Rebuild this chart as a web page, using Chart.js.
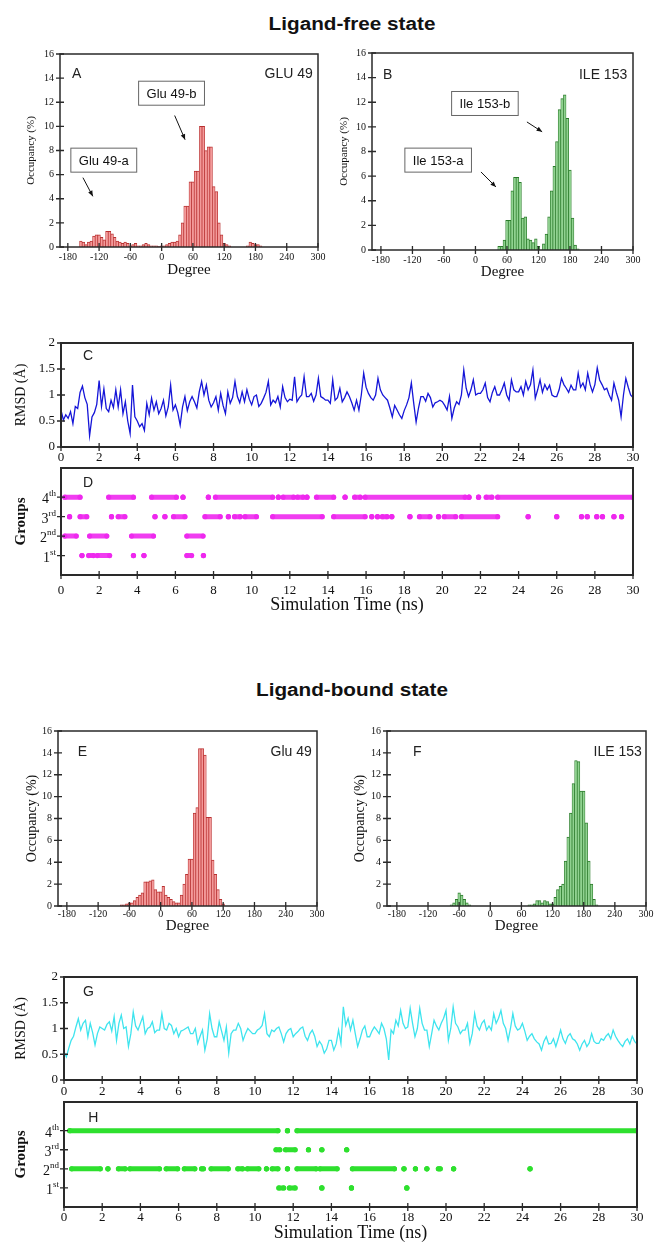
<!DOCTYPE html>
<html>
<head>
<meta charset="utf-8">
<script src="https://cdn.jsdelivr.net/npm/chart.js@4.4.1/dist/chart.umd.min.js"></script>
<style>
  body { margin: 0; width: 655px; height: 1243px; background: #fff; position: relative; overflow: hidden; }
  canvas { position: absolute; }
  .ttl { position: absolute; font: bold 18px "Liberation Sans", Arial, sans-serif; color: #111;
         line-height: 20px; white-space: nowrap; transform: translateX(-50%) scaleX(1.15); }
</style>
</head>
<body>
<div class="ttl" style="left:352px;top:14px">Ligand-free state</div>
<div class="ttl" style="left:352px;top:680px">Ligand-bound state</div>
<script>
// ticks
const degTicks = [-180, -120, -60, 0, 60, 120, 180, 240, 300];
const occTicks = [0, 2, 4, 6, 8, 10, 12, 14, 16];
const timeTicks = [0, 2, 4, 6, 8, 10, 12, 14, 16, 18, 20, 22, 24, 26, 28, 30];
const rmsdTicks = [0, 0.5, 1, 1.5, 2];
const groupTicks = [1, 2, 3, 4];
const groupNames = ['1st', '2nd', '3rd', '4th'];

// histograms (5 degree bins, occupancy %)
const binsA = [-155, -150, -145, -140, -135, -130, -125, -120, -115, -110, -105, -100, -95, -90, -85, -80,
  -75, -70, -65, -60, -55, -50, -45, -40, -35, -30, -25, -20, -15, -10, -5, 0,
  5, 10, 15, 20, 25, 30, 35, 40, 45, 50, 55, 60, 65, 70, 75, 80,
  85, 90, 95, 100, 105, 110, 115, 120, 125, 130, 135, 140, 145, 150, 155, 160,
  165, 170, 175, 180, 185, 190];
const occA = [0.5, 0.4, 0.2, 0.4, 0.5, 0.9, 1.0, 1.0, 0.8, 0.6, 1.3, 1.3, 1.1, 0.8, 0.5, 0.4,
  0.3, 0.4, 0.3, 0.1, 0.2, 0.3, 0.1, 0.1, 0.2, 0.3, 0.2, 0.1, 0.1, 0.1, 0.05, 0.1,
  0.1, 0.2, 0.3, 0.4, 0.4, 0.5, 1.0, 2.0, 3.4, 3.4, 5.4, 5.4, 6.3, 6.3, 10.0, 10.0,
  8.0, 8.3, 8.3, 5.0, 4.6, 2.0, 1.0, 0.3, 0.2, 0.1, 0, 0, 0, 0, 0, 0,
  0.1, 0.4, 0.3, 0.2, 0.2, 0.1];

const binsB = [45, 50, 55, 60, 65, 70, 75, 80, 85, 90, 95, 100, 105, 110, 115, 120,
  125, 130, 135, 140, 145, 150, 155, 160, 165, 170, 175, 180, 185, 190, 195];
const occB = [0.3, 0.3, 0.8, 2.4, 2.4, 4.8, 5.9, 5.9, 5.5, 2.6, 2.7, 0.9, 0.8, 0.6, 0.9, 0.3,
  0, 0.5, 1.3, 2.7, 4.8, 6.8, 8.8, 11.4, 12.3, 12.6, 10.7, 6.5, 2.6, 0.4, 0.1];

const binsE = [-75, -70, -65, -60, -55, -50, -45, -40, -35, -30, -25, -20, -15, -10, -5, 0,
  5, 10, 15, 20, 25, 30, 35, 40, 45, 50, 55, 60, 65, 70, 75, 80,
  85, 90, 95, 100, 105, 110, 115, 120];
const occE = [0.1, 0.1, 0.2, 0.3, 0.3, 0.5, 0.8, 1.0, 1.2, 2.2, 2.2, 2.3, 2.4, 1.5, 1.3, 1.3,
  1.8, 1.0, 0.8, 0.6, 0.4, 0.3, 0.3, 1.0, 2.0, 2.9, 4.3, 4.3, 8.5, 9.0, 14.4, 14.4,
  13.8, 8.1, 8.1, 4.2, 2.9, 1.5, 0.6, 0.2];

const binsF = [-75, -70, -65, -60, -55, -50, -45, -40, 75, 80, 85, 90, 95, 100, 105, 110,
  115, 120, 125, 130, 135, 140, 145, 150, 155, 160, 165, 170, 175, 180, 185, 190,
  195, 200, 205];
const occF = [0.1, 0.3, 0.6, 1.2, 1.0, 0.6, 0.3, 0.1, 0.1, 0.1, 0.2, 0.5, 0.5, 0.3, 0.5, 0.4,
  0.2, 0.2, 0.8, 1.5, 1.8, 2.0, 4.1, 6.3, 8.5, 11.2, 13.3, 13.2, 10.5, 10.5, 7.6, 4.1,
  2.0, 0.6, 0.1];

// RMSD (A), one value every 0.125 ns from 0 to 30 ns
const rmsdStep = 0.125;
const rmsdFree = [
  0.71, 0.52, 0.62, 0.55, 0.68, 0.45, 0.78, 0.74,
  1.05, 1.17, 0.95, 0.82, 0.22, 0.58, 0.66, 0.82,
  1.28, 0.78, 1.12, 0.74, 0.68, 0.90, 0.76, 1.10,
  0.77, 1.10, 0.64, 0.87, 0.50, 0.26, 1.19, 0.58,
  0.50, 0.39, 0.45, 0.32, 0.84, 0.62, 0.94, 0.71,
  0.87, 0.64, 0.74, 0.90, 0.60, 0.77, 1.19, 0.71,
  0.81, 0.66, 0.42, 0.77, 0.97, 0.70, 0.87, 0.97,
  0.87, 0.75, 1.06, 1.26, 1.00, 1.19, 0.90, 0.77,
  0.85, 0.97, 0.71, 1.03, 0.80, 0.64, 1.06, 0.84,
  0.95, 1.26, 0.97, 0.85, 1.06, 0.87, 1.10, 0.92,
  0.81, 0.97, 1.00, 0.78, 0.84, 0.94, 1.05, 1.26,
  0.81, 0.90, 0.85, 0.97, 0.77, 1.16, 0.95, 0.87,
  0.92, 0.90, 1.35, 0.87, 0.95, 1.00, 1.35, 0.97,
  0.97, 1.03, 0.88, 1.00, 1.32, 0.97, 0.94, 0.90,
  0.90, 0.84, 1.29, 0.90, 0.95, 1.13, 0.87, 0.95,
  1.06, 0.97, 0.85, 0.71, 0.90, 0.71, 1.00, 1.42,
  1.15, 1.03, 0.95, 0.90, 1.00, 1.32, 1.10, 1.00,
  0.95, 0.90, 0.75, 0.58, 0.80, 0.71, 0.62, 0.55,
  0.70, 0.81, 0.95, 1.23, 0.84, 0.48, 0.75, 0.97,
  0.97, 0.88, 1.03, 0.95, 0.77, 0.85, 0.87, 0.90,
  0.87, 0.80, 0.71, 0.97, 0.55, 0.75, 0.87, 0.82,
  1.00, 1.48, 1.13, 0.97, 1.10, 1.29, 1.00, 1.03,
  1.03, 1.10, 1.23, 0.95, 0.87, 1.05, 1.16, 1.00,
  1.00, 1.10, 1.23, 1.00, 0.90, 1.29, 1.10, 1.06,
  1.06, 1.16, 1.00, 1.26, 1.10, 1.20, 1.48, 0.94,
  1.10, 1.29, 1.05, 1.20, 1.10, 1.19, 1.00, 0.97,
  0.97, 1.10, 1.32, 1.20, 1.13, 1.05, 1.19, 1.10,
  1.10, 1.42, 1.15, 1.23, 1.10, 1.42, 1.20, 1.06,
  1.20, 1.52, 1.29, 1.20, 1.10, 1.13, 1.00, 0.90,
  1.23, 1.05, 0.90, 0.58, 1.00, 1.32, 1.15, 1.00,
  0.95];
const rmsdBound = [
  0.55, 0.45, 0.62, 0.77, 0.85, 1.03, 1.19, 0.97,
  1.10, 1.16, 0.84, 1.10, 0.92, 0.68, 0.90, 1.03,
  1.00, 0.97, 1.08, 1.13, 0.95, 1.23, 0.77, 1.10,
  1.26, 1.00, 1.03, 0.65, 0.90, 1.32, 1.05, 0.97,
  1.10, 1.23, 0.90, 1.00, 1.03, 1.13, 0.92, 0.97,
  0.97, 1.29, 1.00, 0.97, 1.10, 1.06, 0.90, 1.00,
  0.84, 0.95, 0.97, 1.00, 1.03, 0.90, 0.90, 1.00,
  0.71, 0.85, 0.97, 0.58, 0.80, 1.29, 1.00, 0.84,
  0.84, 1.13, 0.95, 0.77, 1.03, 0.52, 0.90, 0.97,
  0.97, 1.10, 1.00, 0.77, 0.90, 1.00, 0.95, 0.90,
  0.90, 0.97, 1.00, 1.06, 1.29, 0.90, 0.84, 0.97,
  0.94, 1.00, 1.03, 0.90, 0.74, 0.90, 0.97, 1.00,
  0.84, 0.90, 0.94, 1.00, 1.03, 0.85, 0.77, 0.90,
  0.97, 0.85, 0.65, 0.75, 0.68, 0.52, 0.60, 0.77,
  0.77, 0.58, 0.70, 0.97, 0.71, 1.42, 1.06, 1.20,
  0.97, 1.16, 0.90, 0.65, 0.80, 0.97, 1.05, 0.84,
  0.84, 0.95, 1.03, 0.97, 0.90, 1.10, 1.00, 0.80,
  0.39, 0.97, 0.90, 1.16, 1.05, 1.35, 1.10, 1.00,
  1.03, 1.39, 1.10, 0.84, 1.00, 1.39, 1.10, 0.97,
  0.97, 0.65, 0.90, 1.16, 1.05, 0.97, 1.10, 1.20,
  1.35, 0.77, 1.00, 1.42, 1.10, 1.03, 0.90, 0.97,
  0.97, 1.10, 0.71, 0.90, 1.29, 1.05, 0.97, 1.10,
  1.16, 0.97, 1.05, 0.97, 1.29, 1.10, 1.20, 1.35,
  1.10, 1.00, 0.77, 1.00, 1.29, 1.05, 0.97, 1.00,
  1.10, 0.95, 0.77, 0.85, 0.90, 0.80, 0.74, 0.70,
  0.58, 0.75, 0.84, 0.70, 0.71, 0.80, 0.65, 0.80,
  0.97, 0.80, 0.71, 0.85, 0.90, 0.80, 0.77, 0.70,
  0.58, 0.70, 0.77, 0.65, 0.72, 0.90, 0.75, 0.71,
  0.71, 0.80, 0.77, 0.85, 0.90, 0.80, 0.97, 0.85,
  0.77, 0.70, 0.65, 0.75, 0.80, 0.70, 0.85, 0.75,
  0.70];

// group occupancy, [start, end] in ns
const groupsFree4 = [[0.2, 1.0], [2.5, 3.8], [4.75, 6.05], [6.4, 6.4], [7.73, 7.73], [8.1, 11.1], [11.4, 11.4],
  [11.65, 12.2], [12.4, 12.7], [12.9, 12.9], [13.4, 14.3], [14.9, 14.9], [15.4, 15.7], [15.95, 21.2],
  [21.4, 21.4], [21.9, 21.9], [22.3, 22.6], [22.9, 30]];
const groupsFree3 = [[0.45, 0.45], [1.0, 1.35], [2.65, 2.65], [3.0, 3.35], [4.93, 4.93], [5.45, 5.45], [5.9, 6.5],
  [7.55, 8.35], [8.78, 8.78], [9.1, 9.4], [9.65, 10.25], [11.1, 13.7], [14.3, 15.95], [16.3, 16.3], [16.6, 16.6],
  [16.85, 17.1], [17.35, 17.35], [18.3, 18.3], [18.8, 19.35], [19.8, 19.8], [20.1, 20.7], [21.0, 22.9],
  [24.5, 24.5], [26.0, 26.0], [27.3, 27.3], [27.6, 27.6], [28.1, 28.1], [28.4, 28.4], [29.0, 29.0], [29.4, 29.4]];
const groupsFree2 = [[0.2, 0.8], [1.5, 2.4], [3.7, 4.85], [6.6, 7.45]];
const groupsFree1 = [[1.1, 1.1], [1.45, 1.7], [1.9, 2.55], [3.8, 3.8], [4.35, 4.35], [6.6, 6.85], [7.47, 7.47]];

const groupsBound4 = [[0.3, 11.2], [11.7, 11.7], [12.2, 30]];
const groupsBound3 = [[11.1, 11.3], [11.6, 12.1], [12.8, 12.8], [13.5, 13.5], [14.8, 14.8]];
const groupsBound2 = [[0.4, 1.9], [2.3, 2.3], [2.85, 3.2], [3.45, 5.0], [5.35, 5.95], [6.3, 6.85], [7.2, 7.3],
  [7.7, 8.6], [9.1, 9.35], [9.6, 10.2], [10.6, 10.6], [10.9, 11.2], [11.7, 11.7], [12.2, 13.2], [13.4, 14.3],
  [15.1, 17.3], [17.8, 17.8], [18.4, 18.4], [19.0, 19.0], [19.6, 19.7], [20.4, 20.4], [24.4, 24.4]];
const groupsBound1 = [[11.25, 11.5], [11.8, 12.1], [13.5, 13.5], [15.05, 15.05], [17.95, 17.95]];

const SERIF = '"Liberation Serif", "Times New Roman", serif';
const SANS = '"Liberation Sans", Arial, sans-serif';
Chart.defaults.font.family = SERIF;
Chart.defaults.color = '#111';

// frame, crossing ticks, group labels and the small notes inside each panel
const panelPlugin = {
  id: 'panel',
  afterDatasetsDraw(chart, args, o) {
    const { ctx, chartArea: a } = chart;
    const sx = chart.scales.x, sy = chart.scales.y;
    const px = v => sx.getPixelForValue(v), py = v => sy.getPixelForValue(v);
    ctx.save();
    ctx.strokeStyle = '#2a2a2a';
    ctx.lineWidth = o.frame || 1.5;
    ctx.strokeRect(a.left, a.top, a.width, a.height);
    ctx.lineWidth = 1.3;
    ctx.beginPath();
    sx.ticks.forEach(t => { const p = px(t.value); ctx.moveTo(p, a.bottom - 4); ctx.lineTo(p, a.bottom + 4); });
    sy.ticks.forEach(t => { const p = py(t.value); ctx.moveTo(a.left - 4, p); ctx.lineTo(a.left + 4, p); });
    ctx.stroke();

    if (o.groups) {
      ctx.fillStyle = '#111';
      ctx.textAlign = 'right';
      ctx.textBaseline = 'alphabetic';
      sy.ticks.forEach(t => {
        const m = groupNames[t.value - 1].match(/^(\d+)(\D+)$/);
        const p = py(t.value);
        ctx.font = '9px ' + SERIF;
        const sw = ctx.measureText(m[2]).width;
        ctx.fillText(m[2], a.left - 5, p - 1);
        ctx.font = '14px ' + SERIF;
        ctx.fillText(m[1], a.left - 5 - sw, p + 6);
      });
    }

    ctx.strokeStyle = '#111';
    ctx.fillStyle = '#111';
    ctx.lineWidth = 1;
    (o.arrows || []).forEach(r => {
      const x1 = px(r.x1), y1 = py(r.y1), x2 = px(r.x2), y2 = py(r.y2);
      const ang = Math.atan2(y2 - y1, x2 - x1);
      ctx.beginPath(); ctx.moveTo(x1, y1); ctx.lineTo(x2, y2); ctx.stroke();
      ctx.beginPath();
      ctx.moveTo(x2, y2);
      ctx.lineTo(x2 - 6 * Math.cos(ang - 0.4), y2 - 6 * Math.sin(ang - 0.4));
      ctx.lineTo(x2 - 6 * Math.cos(ang + 0.4), y2 - 6 * Math.sin(ang + 0.4));
      ctx.closePath(); ctx.fill();
    });

    (o.boxes || []).forEach(b => {
      ctx.font = '13px ' + SANS;
      const w = ctx.measureText(b.text).width + 16, h = 24;
      const cx = px(b.x), cy = py(b.y);
      ctx.fillStyle = '#fff';
      ctx.fillRect(cx - w / 2, cy - h / 2, w, h);
      ctx.strokeStyle = '#666';
      ctx.strokeRect(cx - w / 2, cy - h / 2, w, h);
      ctx.fillStyle = '#111';
      ctx.textAlign = 'center';
      ctx.textBaseline = 'middle';
      ctx.fillText(b.text, cx, cy + 1);
    });

    (o.texts || []).forEach(t => {
      ctx.font = '14px ' + SANS;
      ctx.fillStyle = '#222';
      ctx.textAlign = t.align || 'left';
      ctx.textBaseline = 'middle';
      ctx.fillText(t.text, px(t.x), py(t.y));
    });
    ctx.restore();
  }
};

// canvas placed so the plot area lands on box g
function makeCanvas(g) {
  const yLH = g.yTitleSize * 1.2;
  const left = Math.round(g.yTitleX - yLH / 2);
  const yW = g.l - left;
  const xH = g.xTitle ? Math.round(g.xTitleY - (g.t + g.h) + g.xTitleSize * 0.6) : 24;
  const padT = 12, padR = 18;
  const cv = document.createElement('canvas');
  cv.width = yW + g.w + padR;
  cv.height = padT + g.h + xH;
  cv.style.left = left + 'px';
  cv.style.top = (g.t - padT) + 'px';
  cv.style.width = cv.width + 'px';
  cv.style.height = cv.height + 'px';
  document.body.appendChild(cv);
  return { cv, yW, xH, padT, padR };
}

function scalesFor(p, g, xs, ys) {
  return {
    x: {
      type: 'linear', min: xs.min, max: xs.max, offset: false,
      grid: { display: false, drawTicks: false }, border: { display: false },
      afterBuildTicks: s => { s.ticks = xs.ticks.map(v => ({ value: v })); },
      afterFit: s => { s.height = p.xH; s.paddingLeft = 0; s.paddingRight = 0; },
      ticks: { autoSkip: false, maxRotation: 0, padding: xs.pad, font: { size: xs.size }, color: '#111',
               callback: v => String(v) },
      title: { display: !!g.xTitle, text: g.xTitle || '', padding: 0, color: '#111',
               font: { size: g.xTitleSize || 12 } }
    },
    y: {
      type: 'linear', min: ys.min, max: ys.max,
      grid: { display: false, drawTicks: false }, border: { display: false },
      afterBuildTicks: s => { s.ticks = ys.ticks.map(v => ({ value: v })); },
      afterFit: s => { s.width = p.yW; s.paddingTop = 0; s.paddingBottom = 0; },
      ticks: { display: !ys.hideLabels, padding: ys.pad, font: { size: ys.size }, color: '#111',
               callback: v => String(v) },
      title: { display: true, text: g.yTitle, padding: 0, color: '#111',
               font: { size: g.yTitleSize, weight: g.yTitleBold ? 'bold' : 'normal' } }
    }
  };
}

function baseOptions(p, g, xs, ys, notes) {
  return {
    responsive: false, animation: false, devicePixelRatio: 1,
    layout: { padding: { left: 0, top: p.padT, right: p.padR, bottom: 0 } },
    plugins: { legend: { display: false }, tooltip: { enabled: false }, panel: notes },
    scales: scalesFor(p, g, xs, ys)
  };
}

function histogram(g, bins, occ, fill, edge, notes) {
  const p = makeCanvas(g);
  new Chart(p.cv, {
    type: 'bar',
    data: {
      datasets: [{
        data: bins.map((b, i) => ({ x: b, y: occ[i] })),
        backgroundColor: fill, borderColor: edge,
        borderWidth: { top: 1, left: 0.7, right: 0.7, bottom: 0 },
        barPercentage: 1, categoryPercentage: 1
      }]
    },
    options: baseOptions(p, g,
      { min: g.xMin, max: 300, ticks: degTicks, pad: g.xPad, size: 10 },
      { min: 0, max: 16, ticks: occTicks, pad: 6, size: 10 }, notes),
    plugins: [panelPlugin]
  });
}

function rmsdPanel(g, values, color, notes) {
  const p = makeCanvas(g);
  new Chart(p.cv, {
    type: 'line',
    data: { datasets: [{ data: values.map((v, i) => ({ x: i * rmsdStep, y: v })),
      borderColor: color, borderWidth: 1.3, pointRadius: 0, tension: 0 }] },
    options: baseOptions(p, g,
      { min: 0, max: 30, ticks: timeTicks, pad: g.xPad, size: 13 },
      { min: 0, max: 2, ticks: rmsdTicks, pad: 6, size: 13 }, Object.assign({ frame: 2 }, notes)),
    plugins: [panelPlugin]
  });
}

function groupPanel(g, rows, color, notes) {
  const p = makeCanvas(g);
  const datasets = rows.map((runs, k) => {
    const pts = [];
    runs.forEach(r => { pts.push({ x: r[0], y: k + 1 }, { x: r[1], y: k + 1 }, { x: r[1], y: null }); });
    return { data: pts, borderColor: color, backgroundColor: color, borderWidth: 5, borderCapStyle: 'round',
             pointRadius: 2.6, pointBorderWidth: 0, spanGaps: false };
  });
  new Chart(p.cv, {
    type: 'line',
    data: { datasets },
    options: baseOptions(p, g,
      { min: 0, max: 30, ticks: timeTicks, pad: g.xPad, size: 13 },
      { min: 0, max: 5.5, ticks: groupTicks, pad: 6, size: 13, hideLabels: true },
      Object.assign({ frame: 2, groups: true }, notes)),
    plugins: [panelPlugin]
  });
}

const redFill = '#f39a9a', redEdge = '#b83030';
const greenFill = '#90d290', greenEdge = '#2a7a2a';

histogram({ l: 60, t: 54, w: 258, h: 193, xMin: -195, xPad: 4, yTitle: 'Occupancy (%)', yTitleX: 32, yTitleSize: 11,
            xTitle: 'Degree', xTitleY: 270, xTitleSize: 15 }, binsA, occA, redFill, redEdge, {
  texts: [{ x: -172, y: 14.3, text: 'A' }, { x: 290, y: 14.3, text: 'GLU 49', align: 'right' }],
  boxes: [{ x: 19, y: 12.75, text: 'Glu 49-b' }, { x: -111, y: 7.2, text: 'Glu 49-a' }],
  arrows: [{ x1: 25, y1: 10.9, x2: 45, y2: 8.9 }, { x1: -151, y1: 5.75, x2: -132, y2: 4.2 }]
});
histogram({ l: 372, t: 53, w: 261, h: 197, xMin: -197, xPad: 4, yTitle: 'Occupancy (%)', yTitleX: 345, yTitleSize: 11,
            xTitle: 'Degree', xTitleY: 272, xTitleSize: 15 }, binsB, occB, greenFill, greenEdge, {
  texts: [{ x: -176, y: 14.2, text: 'B' }, { x: 289, y: 14.2, text: 'ILE 153', align: 'right' }],
  boxes: [{ x: 18, y: 11.9, text: 'Ile 153-b' }, { x: -71, y: 7.3, text: 'Ile 153-a' }],
  arrows: [{ x1: 98, y1: 10.4, x2: 127, y2: 9.6 }, { x1: 10.5, y1: 6.34, x2: 39, y2: 5.12 }]
});
rmsdPanel({ l: 61, t: 343, w: 572, h: 104, xPad: 3, yTitle: 'RMSD (Å)', yTitleX: 21, yTitleSize: 14 },
  rmsdFree, '#1515d8', { texts: [{ x: 1.15, y: 1.75, text: 'C' }] });
groupPanel({ l: 61, t: 468, w: 572, h: 107, xPad: 8, yTitle: 'Groups', yTitleX: 21, yTitleSize: 15, yTitleBold: true,
             xTitle: 'Simulation Time (ns)', xTitleY: 605, xTitleSize: 18 },
  [groupsFree1, groupsFree2, groupsFree3, groupsFree4], 'rgba(238,40,238,0.9)',
  { texts: [{ x: 1.15, y: 4.72, text: 'D' }] });

histogram({ l: 58, t: 731, w: 259, h: 175, xMin: -197, xPad: 2, yTitle: 'Occupancy (%)', yTitleX: 32, yTitleSize: 14,
            xTitle: 'Degree', xTitleY: 926, xTitleSize: 15 }, binsE, occE, redFill, redEdge, {
  texts: [{ x: -159, y: 14.1, text: 'E' }, { x: 290, y: 14.1, text: 'Glu 49', align: 'right' }]
});
histogram({ l: 387, t: 731, w: 259, h: 175, xMin: -199, xPad: 2, yTitle: 'Occupancy (%)', yTitleX: 360, yTitleSize: 14,
            xTitle: 'Degree', xTitleY: 926, xTitleSize: 15 }, binsF, occF, greenFill, greenEdge, {
  texts: [{ x: -149, y: 14.1, text: 'F' }, { x: 292, y: 14.1, text: 'ILE 153', align: 'right' }]
});
rmsdPanel({ l: 64, t: 977, w: 573, h: 103, xPad: 4, yTitle: 'RMSD (Å)', yTitleX: 21, yTitleSize: 14 },
  rmsdBound, '#3ee4ee', { texts: [{ x: 1.0, y: 1.7, text: 'G' }] });
groupPanel({ l: 64, t: 1102, w: 573, h: 105, xPad: 3, yTitle: 'Groups', yTitleX: 21, yTitleSize: 15, yTitleBold: true,
             xTitle: 'Simulation Time (ns)', xTitleY: 1233, xTitleSize: 18 },
  [groupsBound1, groupsBound2, groupsBound3, groupsBound4], '#2ee02e',
  { texts: [{ x: 1.27, y: 4.66, text: 'H' }] });
</script>
</body>
</html>
